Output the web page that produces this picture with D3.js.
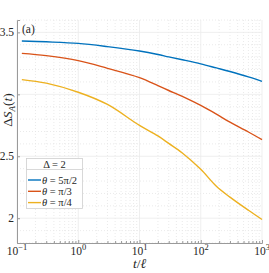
<!DOCTYPE html>
<html><head><meta charset="utf-8">
<script src="https://cdn.jsdelivr.net/npm/d3@7"></script>
<style>
html,body{margin:0;padding:0;background:#fff;}
svg{display:block;}
</style></head>
<body><svg id="c" width="269" height="273"></svg>
<script>
const tVals = [0.12, 0.3, 1, 3, 10, 20, 30, 50, 100, 180, 300, 600, 1000];
const blueVals = [3.431, 3.424, 3.411, 3.385, 3.350, 3.322, 3.302, 3.279, 3.246, 3.213, 3.184, 3.141, 3.105];
const redVals = [3.331, 3.312, 3.272, 3.21, 3.135, 3.07, 3.031, 2.983, 2.910, 2.84, 2.775, 2.696, 2.634];
const yellowVals = [3.119, 3.090, 3.017, 2.918, 2.749, 2.664, 2.604, 2.527, 2.395, 2.258, 2.170, 2.064, 1.990];
const seriesNames = ["5π/2", "π/3", "π/4"];
const seriesColors = ["#0072BD", "#D95319", "#EDB120"];
const xTicks = [0.1, 1, 10, 100, 1000];
const xTickExp = ["−1", "0", "1", "2", "3"];
const yTicks = [2, 2.5, 3, 3.5];
const yTickLabels = ["2", "2.5", "", "3.5"];

const FONT = "Liberation Serif";
const svg = d3.select("#c").attr("font-family", FONT);
const L = 17, R = 262, T = 20, B = 243;
const x = d3.scaleLog().domain([0.1, 1000]).range([L, R]);
const y = d3.scaleLinear().domain([1.8, 3.6]).range([B, T]);

// minor grid
const minorX = [];
for (let e = -1; e < 3; e++) for (let k = 2; k <= 9; k++) minorX.push(k * Math.pow(10, e));
const minorY = d3.range(18, 37).map(v => v / 10).filter(v => !yTicks.some(t => Math.abs(t - v) < 1e-6));
const g = svg.append("g");
g.selectAll(".mx").data(minorX).enter().append("line")
  .attr("x1", d => x(d)).attr("x2", d => x(d)).attr("y1", T).attr("y2", B)
  .attr("stroke", "#e4e4e4").attr("stroke-width", 0.8).attr("stroke-dasharray", "1,2");
g.selectAll(".my").data(minorY).enter().append("line")
  .attr("x1", L).attr("x2", R).attr("y1", d => y(d)).attr("y2", d => y(d))
  .attr("stroke", "#e4e4e4").attr("stroke-width", 0.8).attr("stroke-dasharray", "1,2");
g.selectAll(".gx").data(xTicks).enter().append("line")
  .attr("x1", d => x(d)).attr("x2", d => x(d)).attr("y1", T).attr("y2", B)
  .attr("stroke", "#ebebeb").attr("stroke-width", 0.8);
g.selectAll(".gy").data(yTicks).enter().append("line")
  .attr("x1", L).attr("x2", R).attr("y1", d => y(d)).attr("y2", d => y(d))
  .attr("stroke", "#ebebeb").attr("stroke-width", 0.8);

// axes
const xAxis = d3.axisBottom(x).tickValues(xTicks).tickSize(-3).tickFormat(() => "");
const xa = svg.append("g").attr("transform", `translate(0,${B})`).call(xAxis);
xa.select(".domain").attr("stroke", "#9a9a9a");
xa.selectAll(".tick line").attr("stroke", "#9a9a9a");
const xMinorAxis = d3.axisBottom(x).tickValues(minorX).tickSize(-2).tickFormat(() => "");
const xm = svg.append("g").attr("transform", `translate(0,${B})`).call(xMinorAxis);
xm.select(".domain").remove();
xm.selectAll(".tick line").attr("stroke", "#9a9a9a");

const yAxis = d3.axisLeft(y).tickValues(yTicks).tickSize(-3).tickFormat(() => "");
const ya = svg.append("g").attr("transform", `translate(${L},0)`).call(yAxis);
ya.select(".domain").attr("stroke", "#9a9a9a");
ya.selectAll(".tick line").attr("stroke", "#9a9a9a");

// tick labels
xTicks.forEach((t, i) => {
  const tx = svg.append("text").attr("x", x(t)).attr("y", 255).attr("text-anchor", "middle")
    .attr("font-family", FONT).attr("font-size", 11.5).attr("fill", "#262626");
  tx.append("tspan").text("10");
  tx.append("tspan").attr("dy", -5).attr("font-size", 8.5).text(xTickExp[i]);
});
yTicks.forEach((t, i) => {
  svg.append("text").attr("x", L - 3).attr("y", y(t) + 4).attr("text-anchor", "end")
    .attr("font-family", FONT).attr("font-size", 11.5).attr("fill", "#262626").text(yTickLabels[i]);
});

// axis titles
const xl = svg.append("text").attr("x", x(10)).attr("y", 268).attr("text-anchor", "middle")
  .attr("font-family", FONT).attr("font-size", 13.5).attr("fill", "#262626");
xl.append("tspan").attr("font-style", "italic").text("t");
xl.append("tspan").text("/");
xl.append("tspan").attr("font-style", "italic").text("ℓ");

const yl = svg.append("text").attr("transform", "translate(12,110) rotate(-90)")
  .attr("text-anchor", "middle").attr("font-family", FONT).attr("font-size", 13.5).attr("fill", "#262626");
yl.append("tspan").text("Δ");
yl.append("tspan").attr("font-style", "italic").text("S");
yl.append("tspan").attr("font-style", "italic").attr("font-size", 9).attr("dy", 3).text("A");
yl.append("tspan").attr("dy", -3).text("(");
yl.append("tspan").attr("font-style", "italic").text("t");
yl.append("tspan").text(")");

// panel label
svg.append("text").attr("x", 22).attr("y", 33).attr("font-family", FONT).attr("font-size", 11.5)
  .attr("fill", "#262626").text("(a)");

// lines
const allVals = [blueVals, redVals, yellowVals];
const line = d3.line().x(d => x(d[0])).y(d => y(d[1])).curve(d3.curveCatmullRom.alpha(0.5));
allVals.forEach((vals, i) => {
  svg.append("path").datum(tVals.map((t, j) => [t, vals[j]]))
    .attr("d", line).attr("fill", "none").attr("stroke", seriesColors[i]).attr("stroke-width", 1.4);
});

// legend
const lg = svg.append("g");
lg.append("rect").attr("x", 26.5).attr("y", 158.5).attr("width", 56).attr("height", 50)
  .attr("fill", "#fff").attr("stroke", "#cfcfcf").attr("stroke-width", 0.8);
lg.append("line").attr("x1", 26.5).attr("x2", 82.5).attr("y1", 169.5).attr("y2", 169.5)
  .attr("stroke", "#cfcfcf").attr("stroke-width", 0.8);
lg.append("text").attr("x", 54.5).attr("y", 167.5).attr("text-anchor", "middle")
  .attr("font-family", FONT).attr("font-size", 10.5).attr("fill", "#262626").text("Δ = 2");
seriesNames.forEach((n, i) => {
  const yy = 180 + i * 11.3;
  lg.append("line").attr("x1", 28).attr("x2", 41).attr("y1", yy).attr("y2", yy)
    .attr("stroke", seriesColors[i]).attr("stroke-width", 1.4);
  const t = lg.append("text").attr("x", 42).attr("y", yy + 3.5).attr("font-family", FONT)
    .attr("font-size", 10.5).attr("fill", "#262626");
  t.append("tspan").attr("font-style", "italic").text("θ");
  t.append("tspan").text(" = " + n);
});
</script></body></html>
